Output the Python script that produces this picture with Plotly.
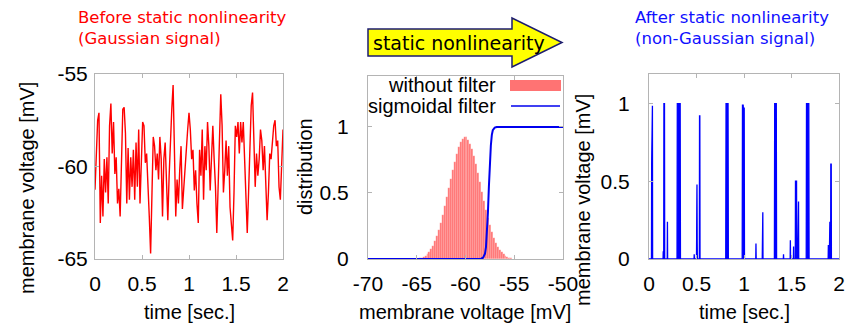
import numpy as np
import plotly.graph_objects as go

# ---------------- data ----------------
# Panel 1: Gaussian membrane voltage trace (mV), sampled evenly over 0..2 s
v1 = [-61.25, -59.1, -57.5, -57.1, -63.05, -60.5, -62.7, -59.6, -61.4, -59.5,
      -62.0, -57.8, -56.6, -59.3, -57.6, -60.4, -59.5, -62.0, -61.2, -62.7,
      -60.4, -56.9, -56.8, -58.2, -62.0, -59.0, -61.8, -59.5, -61.1, -59.1,
      -61.8, -58.7, -61.1, -58.0, -62.0, -59.5, -57.6, -57.8, -59.8, -59.3,
      -61.6, -62.7, -64.7, -60.5, -58.4, -58.9, -60.2, -59.3, -60.7, -58.4,
      -59.6, -62.7, -59.6, -58.7, -60.5, -62.9, -60.5, -58.4, -56.9, -55.6,
      -58.7, -62.7, -60.7, -62.0, -60.2, -58.9, -62.3, -61.1, -59.8, -59.1,
      -58.0, -57.1, -58.0, -59.6, -59.1, -61.3, -60.2, -62.0, -63.05, -59.1,
      -60.5, -58.0, -61.8, -58.9, -60.2, -57.6, -58.9, -61.3, -59.6, -57.8,
      -59.6, -61.1, -63.6, -61.1, -57.6, -56.1, -57.8, -61.4, -60.2, -58.6,
      -60.5, -58.9, -62.2, -63.2, -64.0, -61.4, -57.8, -58.4, -57.6, -59.3,
      -57.6, -58.7, -57.6, -59.6, -62.0, -63.6, -61.4, -59.1, -56.7, -56.0,
      -58.7, -61.1, -59.3, -60.5, -59.6, -58.0, -58.6, -60.2, -58.9, -60.7,
      -62.9, -61.4, -59.3, -59.6, -58.4, -57.8, -57.5, -58.9, -58.6, -61.1,
      -61.8, -59.6, -58.0]
t1 = np.arange(len(v1)) * (2.0 / (len(v1) - 1))

# Panel 2: distribution of membrane voltage (bin centres, heights) and sigmoid filter
hist_centers = [-64.9, -64.7, -64.5, -64.3, -64.1, -63.9, -63.7, -63.5, -63.3, -63.1,
                -62.9, -62.7, -62.5, -62.3, -62.1, -61.9, -61.7, -61.5, -61.3, -61.1,
                -60.9, -60.7, -60.5, -60.3, -60.1, -59.9, -59.7, -59.5, -59.3, -59.1,
                -58.9, -58.7, -58.5, -58.3, -58.1, -57.9, -57.7, -57.5, -57.3, -57.1,
                -56.9, -56.7, -56.5, -56.3, -56.1, -55.9, -55.7, -55.5, -55.3, -55.1]
hist_heights = [0.003, 0.006, 0.010, 0.016, 0.025, 0.037, 0.053, 0.075, 0.102, 0.135,
                0.175, 0.222, 0.276, 0.335, 0.400, 0.468, 0.538, 0.608, 0.675, 0.738,
                0.795, 0.845, 0.884, 0.912, 0.925, 0.921, 0.903, 0.872, 0.830, 0.778,
                0.718, 0.652, 0.582, 0.511, 0.441, 0.374, 0.311, 0.255, 0.205, 0.161,
                0.124, 0.094, 0.069, 0.050, 0.035, 0.024, 0.016, 0.010, 0.006, 0.003]
sig_x = [-70, -58.4, -58.2, -58.0, -57.9, -57.8, -57.7, -57.6, -57.5, -57.4,
         -57.3, -57.2, -57.0, -56.8, -50]
sig_y = [0, 0.002, 0.01, 0.04, 0.09, 0.19, 0.35, 0.55, 0.73, 0.86,
         0.94, 0.975, 0.995, 1.0, 1.0]

# Panel 3: after static nonlinearity
t3 = [0.000, 0.026, 0.028, 0.031, 0.036, 0.038, 0.148, 0.150, 0.152, 0.155,
      0.157, 0.163, 0.165, 0.192, 0.194, 0.196, 0.295, 0.298, 0.328, 0.331,
      0.474, 0.476, 0.478, 0.500, 0.502, 0.505, 0.507, 0.509, 0.530, 0.532,
      0.535, 0.537, 0.808, 0.811, 0.832, 0.835, 0.981, 0.984, 0.991, 0.993,
      1.002, 1.005, 1.124, 1.126, 1.128, 1.192, 1.194, 1.198, 1.200, 1.320,
      1.323, 1.340, 1.343, 1.414, 1.416, 1.418, 1.486, 1.488, 1.490, 1.520,
      1.522, 1.524, 1.540, 1.542, 1.553, 1.555, 1.565, 1.567, 1.574, 1.576,
      1.655, 1.658, 1.682, 1.685, 1.886, 1.888, 1.890, 1.898, 1.900, 1.904,
      1.906, 1.912, 1.914, 1.918, 1.920, 2.000]
v3 = [0, 0, 0.61, 0.985, 0.985, 0, 0, 0.05, 0, 0,
      1.0, 1.0, 0, 0, 0.24, 0, 0, 1.0, 1.0, 0,
      0, 0.03, 0, 0, 0.48, 0.48, 0.11, 0, 0, 0.92,
      0.92, 0, 0, 1.0, 1.0, 0, 0, 0.99, 0.99, 0.97,
      0.97, 0, 0, 0.10, 0, 0, 0.30, 0.30, 0, 0,
      1.0, 1.0, 0, 0, 0.03, 0, 0, 0.12, 0, 0,
      0.08, 0, 0, 0.50, 0.50, 0, 0, 0.37, 0.37, 0,
      0, 1.0, 1.0, 0, 0, 0.09, 0, 0, 0.24, 0.24,
      0, 0, 0.61, 0.61, 0, 0]

time_ticks = [0, 0.5, 1, 1.5, 2]
time_ticktext = ["0", "0.5", "1", "1.5", "2"]
volt_ticks = [-70, -65, -60, -55, -50]
volt_ticktext = ["-70", "-65", "-60", "-55", "-50"]
v1_ticks = [-65, -60, -55]
v1_ticktext = ["-65", "-60", "-55"]
unit_ticks = [0, 0.5, 1]
unit_ticktext = ["0", "0.5", "1"]

# ---------------- layout helpers ----------------
W, H = 848, 328
def px(x):
    return x / W
def py(y):
    return 1 - y / H

TICKFONT = dict(family="Liberation Sans", size=21, color="black")
FRAME = "#b4b4b4"

def axis(**kw):
    d = dict(showline=True, mirror="ticks", linecolor=FRAME, linewidth=1,
             ticks="inside", ticklen=4, tickcolor=FRAME, showgrid=False,
             zeroline=False, tickfont=TICKFONT, fixedrange=True, automargin=False)
    d.update(kw)
    return d

fig = go.Figure()
fig.add_trace(go.Scatter(x=t1, y=v1, mode="lines", line=dict(color="red", width=1.4),
                         xaxis="x", yaxis="y", showlegend=False))
fig.add_trace(go.Bar(x=hist_centers, y=hist_heights, width=0.2,
                     marker=dict(color="rgba(255,0,0,0.55)",
                                 line=dict(width=0.4, color="rgba(255,255,255,0.45)")),
                     xaxis="x2", yaxis="y2", showlegend=False))
fig.add_trace(go.Scatter(x=sig_x, y=sig_y, mode="lines", line=dict(color="#0000ee", width=2),
                         xaxis="x2", yaxis="y2", showlegend=False))
fig.add_trace(go.Scatter(x=t3, y=v3, mode="lines", line=dict(color="#0000ff", width=1.3),
                         fill="tozeroy", fillcolor="#0000ff",
                         xaxis="x3", yaxis="y3", showlegend=False))

fig.update_layout(
    width=W, height=H, margin=dict(l=0, r=0, t=0, b=0, autoexpand=False),
    paper_bgcolor="white", plot_bgcolor="white", bargap=0, showlegend=False,
    xaxis=axis(domain=[px(95), px(283)], range=[0, 2], tickvals=time_ticks,
               ticktext=time_ticktext, anchor="y", ticklabelstandoff=6),
    yaxis=axis(domain=[py(259), py(74)], range=[-65, -55], tickvals=v1_ticks,
               ticktext=v1_ticktext, anchor="x", ticklabelstandoff=2),
    xaxis2=axis(domain=[px(368), px(563)], range=[-70, -50], tickvals=volt_ticks,
                ticktext=volt_ticktext, anchor="y2", ticklabelstandoff=6),
    yaxis2=axis(domain=[py(259), py(76)], range=[0, 1.386], tickvals=unit_ticks,
                ticktext=unit_ticktext, anchor="x2", ticklabelstandoff=14),
    xaxis3=axis(domain=[px(649), px(839)], range=[0, 2], tickvals=time_ticks,
                ticktext=time_ticktext, anchor="y3", ticklabelstandoff=6),
    yaxis3=axis(domain=[py(259), py(74)], range=[0, 1.19], tickvals=unit_ticks,
                ticktext=unit_ticktext, anchor="x3", ticklabelstandoff=14),
)

LBL = dict(family="Liberation Sans", size=20, color="black")
ann = []
def A(text, x, y, font, xanchor="center", yanchor="middle", angle=0, align="center"):
    ann.append(dict(text=text, x=px(x), y=py(y), xref="paper", yref="paper",
                    showarrow=False, font=font, xanchor=xanchor, yanchor=yanchor,
                    textangle=angle, align=align))

# axis titles
A("membrane voltage [mV]", 27, 188, LBL, angle=-90)
A("time [sec.]", 189, 312, LBL)
A("distribution", 305, 167, LBL, angle=-90)
A("membrane voltage [mV]", 465, 312, LBL)
A("membrane voltage [mV]", 583, 200, LBL, angle=-90)
A("time [sec.]", 744, 312, LBL)

# panel titles
A("Before static nonlinearity<br>(Gaussian signal)", 76, 6,
  dict(family="DejaVu Sans", size=16.5, color="red"), xanchor="left", yanchor="top", align="left")
A("After static nonlinearity<br>(non-Gaussian signal)", 633, 6,
  dict(family="DejaVu Sans", size=16.5, color="#1010ff"), xanchor="left", yanchor="top", align="left")

# arrow label
A("static nonlinearity", 371, 43, dict(family="DejaVu Sans", size=19, color="black"),
  xanchor="left")

# legend texts
A("without filter", 498, 85, LBL, xanchor="right")
A("sigmoidal filter", 498, 106, LBL, xanchor="right")

fig.update_layout(annotations=ann)

# arrow shape
pts = [(368, 29), (512, 29), (512, 18), (562, 42.5), (512, 67), (512, 56), (368, 56)]
path = "M " + " L ".join(f"{px(x):.5f},{py(y):.5f}" for x, y in pts) + " Z"
shapes = [
    dict(type="path", path=path, xref="paper", yref="paper",
         fillcolor="#ffff00", line=dict(color="#1c1c70", width=1.5), layer="below"),
    dict(type="rect", x0=px(510), x1=px(561), y0=py(91), y1=py(80), xref="paper", yref="paper",
         fillcolor="rgba(255,0,0,0.55)", line=dict(width=0)),
    dict(type="line", x0=px(511), x1=px(560), y0=py(106), y1=py(106), xref="paper", yref="paper",
         line=dict(color="#0000ee", width=1.5)),
]
fig.update_layout(shapes=shapes)

fig.write_html("out.html")
